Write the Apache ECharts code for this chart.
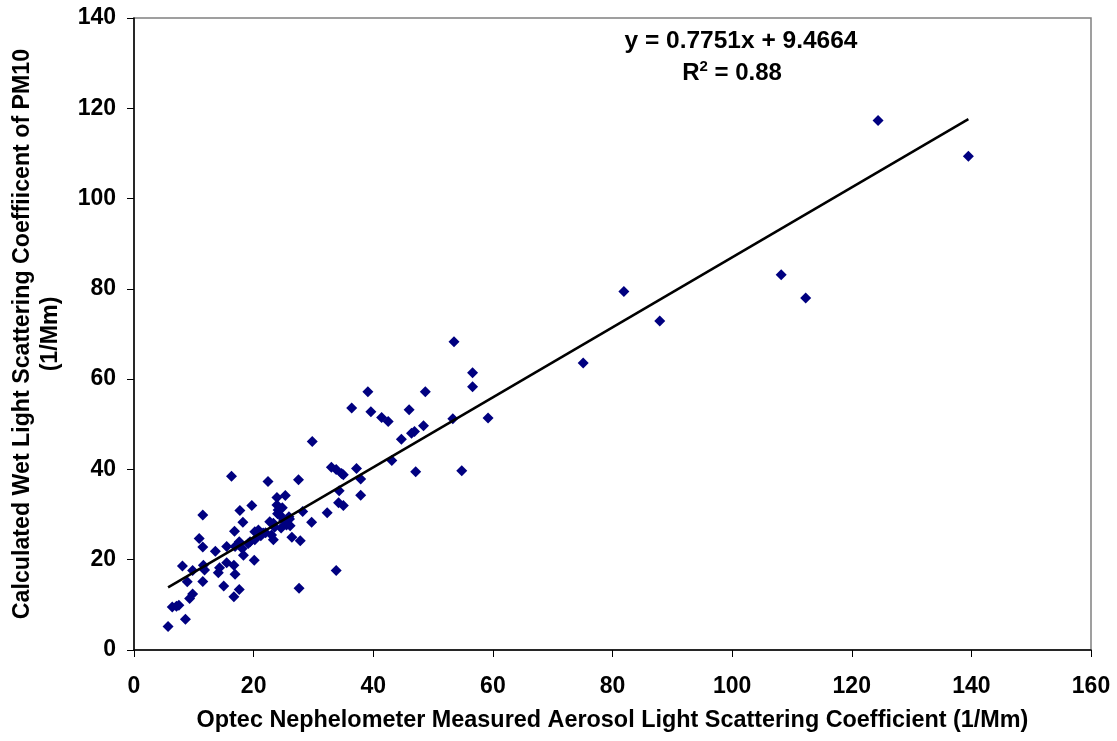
<!DOCTYPE html>
<html>
<head>
<meta charset="utf-8">
<script src="https://cdn.jsdelivr.net/npm/echarts@6/dist/echarts.min.js"></script>
<style>
html,body{margin:0;padding:0;background:#fff;}
#chart{width:1117px;height:741px;}
</style>
</head>
<body>
<div id="chart"></div>
<script>
// Measured (x) vs calculated (y) light scattering, 1/Mm
const xValues = [124.4,139.5,108.2,112.3,81.9,87.9,75.1,
  53.5,56.6,56.6,39.1,48.7,36.4,39.6,46.0,41.4,42.5,53.3,59.2,48.4,46.4,46.9,44.7,29.8,43.1,
  33.0,33.8,34.7,35.0,37.2,47.1,54.8,37.9,34.3,37.9,34.2,35.0,32.3,33.8,
  16.3,22.4,27.5,11.5,17.7,19.7,18.2,23.9,25.3,23.9,24.1,24.4,25.0,25.5,28.2,29.7,26.1,22.7,23.3,
  20.8,21.6,23.0,23.3,26.4,27.8,20.2,19.1,16.8,10.9,11.5,13.6,15.5,17.6,18.1,18.3,16.9,20.1,
  8.1,9.8,11.6,11.8,8.9,11.5,14.3,14.1,15.5,16.7,16.9,15.0,17.6,16.7,9.8,9.3,6.4,7.1,7.5,8.6,5.7,
  27.6,20.2,19.4,22.0,24.6,25.9,24.0,24.8,26.0,23.5,21.2];
const yValues = [117.3,109.4,83.1,78.0,79.4,72.9,63.6,
  68.3,61.4,58.3,57.2,57.2,53.6,52.8,53.2,51.5,50.6,51.2,51.4,49.7,48.0,48.4,46.7,46.2,42.0,
  40.5,40.0,39.1,38.8,40.2,39.5,39.7,37.9,35.3,34.3,32.6,32.0,30.4,17.6,
  38.5,37.3,37.7,29.9,30.9,32.0,28.3,33.8,34.2,32.1,31.0,29.9,28.8,27.7,30.7,28.3,27.5,28.4,28.1,
  26.6,25.9,25.5,24.4,25.0,24.2,24.4,23.6,26.3,24.7,22.8,21.9,22.9,24.0,22.5,21.0,22.9,19.9,
  18.6,17.6,18.8,17.7,15.1,15.2,18.2,17.1,19.3,18.8,16.8,14.2,13.4,11.8,12.4,11.4,9.5,9.7,9.9,6.8,5.2,
  13.7,26.2,24.0,26.0,27.0,29.5,30.2,31.5,29.0,27.2,25.3];
const xTicks = [0,20,40,60,80,100,120,140,160];
const yTicks = [0,20,40,60,80,100,120,140];
const trendSlope = 0.7751;
const trendIntercept = 9.4664;
const rSquared = 0.88;
const xTitle = 'Optec Nephelometer Measured Aerosol Light Scattering Coefficient (1/Mm)';
const yTitle = 'Calculated Wet Light Scattering Coeffiicent of PM10\n(1/Mm)';

const points = xValues.map((x, i) => [x, yValues[i]]);
const xMin = Math.min(...xValues), xMax = Math.max(...xValues);
const trend = [[xMin, trendSlope * xMin + trendIntercept], [xMax, trendSlope * xMax + trendIntercept]];

const font = '"Liberation Sans", Arial, sans-serif';
const chart = echarts.init(document.getElementById('chart'));
chart.setOption({
  animation: false,
  backgroundColor: '#ffffff',
  grid: {left: 134, right: 26, top: 18, bottom: 91, containLabel: false, outerBoundsMode: 'none',
    show: true, borderColor: '#808080', borderWidth: 1.5, backgroundColor: 'transparent'},
  xAxis: {
    type: 'value', min: xTicks[0], max: xTicks[xTicks.length - 1], interval: 20,
    splitLine: {show: false},
    axisLine: {lineStyle: {color: '#000', width: 1.5}},
    axisTick: {inside: false, length: 7, lineStyle: {color: '#000'}},
    axisLabel: {color: '#000', fontFamily: font, fontWeight: 'bold', fontSize: 23, margin: 25},
    name: xTitle, nameLocation: 'middle', nameGap: 59,
    nameTextStyle: {color: '#000', fontFamily: font, fontWeight: 'bold', fontSize: 23.4}
  },
  yAxis: {
    type: 'value', min: yTicks[0], max: yTicks[yTicks.length - 1], interval: 20,
    splitLine: {show: false},
    axisLine: {lineStyle: {color: '#000', width: 1.5}},
    axisTick: {inside: false, length: 7, lineStyle: {color: '#000'}},
    axisLabel: {color: '#000', fontFamily: font, fontWeight: 'bold', fontSize: 23, margin: 18},
    name: yTitle, nameLocation: 'middle', nameGap: 69, nameRotate: 90,
    nameTextStyle: {color: '#000', fontFamily: font, fontWeight: 'bold', fontSize: 23.2, lineHeight: 28, align: 'center'}
  },
  graphic: [
    {type: 'text', x: 741, y: 41, style: {text: 'y = ' + trendSlope + 'x + ' + trendIntercept, font: 'bold 24.5px ' + font, fill: '#000', textAlign: 'center', textVerticalAlign: 'middle'}},
    {type: 'text', x: 732, y: 73, style: {
      text: '{b|R}{s|2}{b| = ' + rSquared + '}',
      textAlign: 'center', textVerticalAlign: 'middle',
      rich: {
        b: {font: 'bold 24px ' + font, fill: '#000'},
        s: {font: 'bold 15px ' + font, fill: '#000', verticalAlign: 'top', padding: [0, 0, 12, 0]}
      }
    }}
  ],
  series: [
    {type: 'scatter', data: points, symbol: 'diamond', symbolSize: 11, itemStyle: {color: '#000080', opacity: 1}, z: 3},
    {type: 'line', data: trend, symbol: 'none', lineStyle: {color: '#000', width: 2.5}, z: 4, silent: true}
  ]
});
</script>
</body>
</html>
